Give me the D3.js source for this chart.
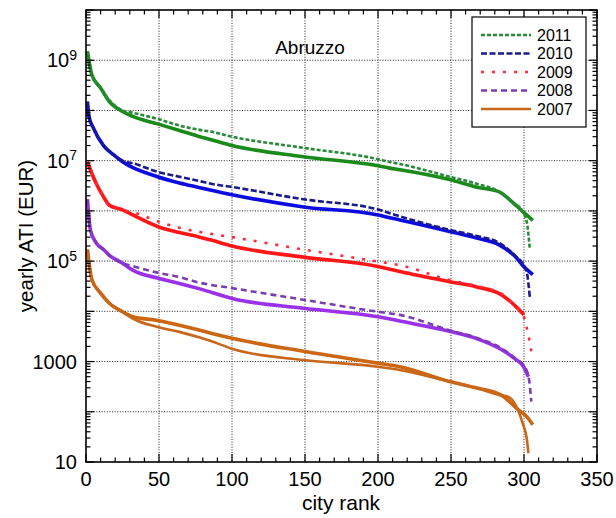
<!DOCTYPE html>
<html><head><meta charset="utf-8">
<script src="https://cdn.jsdelivr.net/npm/d3@7"></script>
<style>body{margin:0;background:#fff}svg{display:block}text{font-family:"Liberation Sans",Arial,sans-serif;fill:#000}</style>
</head><body><svg id="c" width="616" height="518"></svg>
<script>
// ---------- data ----------
const title = "Abruzzo";
const years = ["2011", "2010", "2009", "2008", "2007"];
const xTicks = [0, 50, 100, 150, 200, 250, 300, 350];
const yTickValues = [10, 1000, 1e5, 1e7, 1e9];
const yTickLabels = [["10", ""], ["1000", ""], ["10", "5"], ["10", "7"], ["10", "9"]];

// 2011
const rank2011a = [1,4,10,16,25,32,49,64,78,85,100,149,200,208,215,249,267,283,292,299,306];
const ati2011a  = [1.5e9,5.1e8,2.8e8,1.5e8,9.5e7,7.6e7,5.4e7,4.0e7,3.0e7,2.65e7,2.0e7,1.2e7,7.9e6,7.1e6,6.6e6,4.2e6,3.0e6,2.4e6,1.5e6,9.8e5,6.5e5];
const rank2011b = [1,4,10,16,25,32,49,64,78,85,100,149,200,208,215,249,267,283,292,299,302,304];
const ati2011b  = [1.5e9,5.1e8,2.8e8,1.6e8,1.0e8,9.0e7,6.8e7,5.0e7,4.1e7,3.8e7,3.0e7,1.8e7,1.07e7,9.4e6,8.6e6,4.8e6,3.5e6,2.4e6,1.5e6,9.8e5,5.8e5,1.7e5];
// 2010
const rank2010a = [1,2,5,12,19,25,49,64,78,85,100,149,200,208,215,249,267,283,295,299,306];
const ati2010a  = [1.5e8,7.6e7,4.5e7,2.0e7,1.3e7,9.5e6,4.8e6,3.6e6,2.9e6,2.6e6,2.1e6,1.2e6,8.3e5,7.3e5,6.6e5,3.9e5,2.9e5,2.1e5,1.15e5,8.3e4,5.4e4];
const rank2010b = [1,2,5,12,19,25,32,49,64,78,85,100,149,200,208,249,267,283,295,299,302,304];
const ati2010b  = [1.5e8,7.6e7,4.5e7,2.0e7,1.3e7,1.0e7,8.9e6,6.0e6,4.8e6,3.9e6,3.5e6,3.0e6,1.7e6,1.07e6,9.0e5,4.2e5,3.2e5,2.3e5,1.2e5,9.1e4,5.8e4,1.9e4];
// 2009
const rank2009a = [1,3,7,12,16,25,32,49,64,78,85,100,149,200,208,215,249,267,285,295,300];
const ati2009a  = [9.5e6,6.6e6,3.5e6,1.9e6,1.3e6,1.05e6,8.3e5,4.9e5,3.7e5,3.0e5,2.65e5,2.0e5,1.2e5,7.8e4,6.9e4,6.2e4,3.9e4,3.1e4,2.1e4,1.2e4,8.5e3];
const rank2009b = [1,3,7,12,16,25,35,49,64,78,85,100,149,200,215,249,267,285,295,299,302,305];
const ati2009b  = [9.5e6,6.6e6,3.5e6,1.9e6,1.3e6,1.05e6,8.9e5,6.2e5,4.6e5,3.8e5,3.5e5,3.0e5,1.7e5,9.8e4,8.3e4,4.2e4,3.2e4,2.2e4,1.2e4,9.1e3,4.6e3,1.6e3];
// 2008
const rank2008a = [1,3,7,12,16,25,32,49,64,78,100,149,200,215,249,267,285,295,299,303];
const ati2008a  = [1.7e6,4.2e5,2.3e5,1.7e5,1.3e5,9.1e4,6.6e4,4.6e4,3.6e4,2.8e4,1.8e4,1.15e4,7.8e3,6.4e3,4.0e3,2.9e3,1.7e3,1.07e3,850,500];
const rank2008b = [1,3,7,12,16,25,33,49,64,78,100,149,200,215,249,267,285,295,299,303,305];
const ati2008b  = [1.7e6,4.2e5,2.3e5,1.7e5,1.3e5,9.1e4,7.8e4,5.9e4,4.8e4,3.7e4,2.9e4,1.7e4,9.8e3,8.5e3,4.2e3,3.0e3,1.8e3,1.1e3,890,520,160];
// 2007
const rank2007a = [1,4,10,16,25,32,49,64,78,85,100,149,200,215,249,267,285,296,302,306];
const ati2007a  = [1.7e5,4.3e4,2.3e4,1.45e4,9.8e3,7.8e3,6.6e3,5.3e3,4.2e3,3.7e3,2.9e3,1.6e3,930,790,400,300,210,110,79,55];
const rank2007b = [1,4,10,16,25,32,49,64,78,85,100,149,200,215,249,267,285,289,299,302,303];
const ati2007b  = [1.7e5,4.3e4,2.3e4,1.45e4,9.8e3,7.2e3,4.9e3,3.9e3,3.0e3,2.6e3,1.8e3,1.07e3,790,680,400,300,210,200,60,28,15];

// ---------- styles ----------
const solidColors = {"2011":"#1a8a1a","2010":"#0c0ce0","2009":"#ff1616","2008":"#9a30e8","2007":"#cc6610"};
const dashColors  = {"2011":"#2a8a3a","2010":"#1a1a8c","2009":"#ff2a3a","2008":"#7a3db2","2007":"#c8661a"};
const dashArrays  = {"2011":"4,2","2010":"6,2.5","2009":"3,8","2008":"6,4","2007":null};

const series = [
  {year:"2011", a:[rank2011a, ati2011a], b:[rank2011b, ati2011b]},
  {year:"2010", a:[rank2010a, ati2010a], b:[rank2010b, ati2010b]},
  {year:"2009", a:[rank2009a, ati2009a], b:[rank2009b, ati2009b]},
  {year:"2008", a:[rank2008a, ati2008a], b:[rank2008b, ati2008b]},
  {year:"2007", a:[rank2007a, ati2007a], b:[rank2007b, ati2007b]}
];

// ---------- layout ----------
const svg = d3.select("#c");
const L = 86, R = 597, T = 10, B = 462;
const x = d3.scaleLinear().domain([0, 350]).range([L, R]);
const y = d3.scaleLog().domain([10, 1e10]).range([B, T]);

// grid
const gGrid = svg.append("g").attr("stroke", "#222").attr("stroke-width", 1).attr("stroke-dasharray", "1,1.6");
[50,100,150,200,250,300].forEach(v => gGrid.append("line").attr("x1", x(v)).attr("x2", x(v)).attr("y1", T).attr("y2", B));
[100,1e3,1e4,1e5,1e6,1e7,1e8,1e9].forEach(v => gGrid.append("line").attr("x1", L).attr("x2", R).attr("y1", y(v)).attr("y2", y(v)));

// lines
const zipPts = (rs, vs) => rs.map((r, i) => [r, vs[i]]);
const line = d3.line().x(d => x(d[0])).y(d => y(d[1])).curve(d3.curveMonotoneX);
const gLines = svg.append("g").attr("fill", "none").attr("stroke-linejoin", "round");
series.forEach(s => {
  gLines.append("path").datum(zipPts(s.a[0], s.a[1])).attr("d", line)
    .attr("stroke", solidColors[s.year]).attr("stroke-width", 3.6);
});
series.forEach(s => {
  const p = gLines.append("path").datum(zipPts(s.b[0], s.b[1])).attr("d", line)
    .attr("stroke", dashColors[s.year]).attr("stroke-width", 2.6);
  if (dashArrays[s.year]) p.attr("stroke-dasharray", dashArrays[s.year]);
});

// frame
svg.append("rect").attr("x", L).attr("y", T).attr("width", R - L).attr("height", B - T)
  .attr("fill", "none").attr("stroke", "#000").attr("stroke-width", 1.6);

// x ticks (inward, bottom & top)
const gt = svg.append("g").attr("stroke", "#000").attr("stroke-width", 1.2);
d3.range(0, 351, 10).forEach(v => {
  const len = v % 50 === 0 ? 8 : 4.5;
  gt.append("line").attr("x1", x(v)).attr("x2", x(v)).attr("y1", B).attr("y2", B - len);
  gt.append("line").attr("x1", x(v)).attr("x2", x(v)).attr("y1", T).attr("y2", T + len);
});
// y ticks (log minor, inward, left & right)
y.ticks(90).forEach(v => {
  const m = Math.round(v / Math.pow(10, Math.floor(Math.log10(v) + 1e-9)));
  const len = m === 1 ? 8 : 4.5;
  gt.append("line").attr("x1", L).attr("x2", L + len).attr("y1", y(v)).attr("y2", y(v));
  gt.append("line").attr("x1", R).attr("x2", R - len).attr("y1", y(v)).attr("y2", y(v));
});

// x tick labels
svg.append("g").selectAll("text").data(xTicks).join("text")
  .attr("x", d => x(d)).attr("y", B + 24).attr("text-anchor", "middle")
  .attr("font-size", 20).text(d => d);
// y tick labels
const yl = svg.append("g");
yTickValues.forEach((v, i) => {
  const [base, sup] = yTickLabels[i];
  const t = yl.append("text").attr("x", 77).attr("y", y(v) + 7).attr("text-anchor", "end").attr("font-size", 20);
  t.append("tspan").text(base);
  if (sup) t.append("tspan").attr("dy", -7.5).attr("font-size", 14).text(sup);
});

// axis titles
svg.append("text").attr("x", 341).attr("y", 510).attr("text-anchor", "middle").attr("font-size", 21).text("city rank");
svg.append("text").attr("transform", `translate(33,${(T + B) / 2}) rotate(-90)`).attr("text-anchor", "middle")
  .attr("font-size", 20.5).text("yearly ATI (EUR)");

// chart title
svg.append("text").attr("x", 310).attr("y", 54).attr("text-anchor", "middle").attr("font-size", 19).text(title);

// legend
const lg = svg.append("g");
lg.append("rect").attr("x", 472).attr("y", 17).attr("width", 114).attr("height", 110)
  .attr("fill", "#fff").attr("stroke", "#000").attr("stroke-width", 1.2);
years.forEach((yr, i) => {
  const yy = 35 + i * 18.5;
  const l = lg.append("line").attr("x1", 481).attr("x2", 531).attr("y1", yy).attr("y2", yy)
    .attr("stroke", dashColors[yr]).attr("stroke-width", 2.6);
  if (dashArrays[yr]) l.attr("stroke-dasharray", dashArrays[yr]);
  lg.append("text").attr("x", 537).attr("y", yy + 5.5).attr("font-size", 16).text(yr);
});
</script></body></html>
